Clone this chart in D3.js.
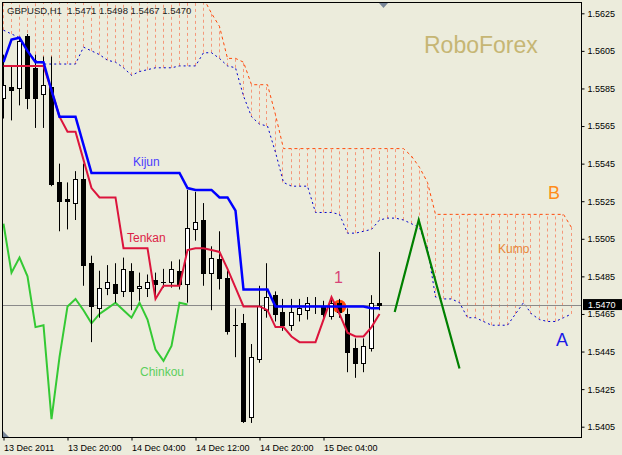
<!DOCTYPE html>
<html><head><meta charset="utf-8">
<script src="https://cdn.jsdelivr.net/npm/d3@7"></script>
<style>html,body{margin:0;padding:0;background:#ECECDC;} svg{display:block;}</style>
</head><body><svg id="c" width="622" height="455"></svg>
<script>
// ---- data ----
const opens  = [1.5580,1.5586,1.5585,1.5613,1.5596,1.5582,1.5586,1.5535,1.5526,1.5524,1.5537,1.5492,1.5468,1.5479,1.5481,1.5477,1.5488,1.5479,1.5479,1.5483,1.5482,1.5482,1.5488,1.5481,1.5510,1.5515,1.5487,1.5494,1.5484,1.5459,1.5460,1.5410,1.5441,1.5467,1.5475,1.5466,1.5459,1.5465,1.5467,1.5469,1.5469,1.5464,1.5471,1.5465,1.5447,1.5439,1.5447,1.5471];
const highs  = [1.5603,1.5597,1.5612,1.5614,1.5603,1.5602,1.5602,1.5545,1.5535,1.5541,1.5545,1.5496,1.5488,1.5491,1.5492,1.5495,1.5492,1.5487,1.5486,1.5487,1.5489,1.5493,1.5494,1.5531,1.5530,1.5524,1.5501,1.5509,1.5488,1.5468,1.5465,1.5449,1.5480,1.5492,1.5477,1.5473,1.5473,1.5473,1.5474,1.5474,1.5472,1.5474,1.5473,1.5468,1.5452,1.5452,1.5475,1.5498];
const lows   = [1.5569,1.5568,1.5576,1.5574,1.5564,1.5564,1.5533,1.5509,1.5510,1.5515,1.5480,1.5450,1.5463,1.5475,1.5471,1.5474,1.5467,1.5472,1.5474,1.5474,1.5479,1.5479,1.5478,1.5471,1.5504,1.5480,1.5467,1.5478,1.5454,1.5442,1.5407,1.5407,1.5439,1.5463,1.5461,1.5456,1.5456,1.5461,1.5462,1.5465,1.5463,1.5462,1.5463,1.5434,1.5431,1.5434,1.5445,1.5467];
const closes = [1.5587,1.5584,1.5610,1.5580,1.5580,1.5587,1.5534,1.5525,1.5525,1.5537,1.5491,1.5469,1.5479,1.5482,1.5476,1.5489,1.5477,1.5480,1.5482,1.5481,1.5482,1.5489,1.5481,1.5511,1.5514,1.5487,1.5495,1.5484,1.5456,1.5459,1.5408,1.5442,1.5469,1.5474,1.5465,1.5459,1.5466,1.5468,1.5471,1.5469,1.5465,1.5471,1.5466,1.5445,1.5439,1.5448,1.5471,1.5470];
const tenkan = [1.5597,1.5597,1.5597,1.5597,1.5597,1.5597,1.5584,1.5570,1.5562,1.5562,1.5547,1.5532,1.5527,1.5527,1.5527,1.5500,1.5500,1.5500,1.5500,1.5473,1.5480,1.5480,1.5480,1.5499,1.5500,1.5500,1.5499,1.5498,1.5489,1.5479,1.5469,1.5469,1.5469,1.5467,1.5458,1.5458,1.5453,1.5450,1.5450,1.5450,1.5462,1.5474,1.5465,1.5455,1.5453,1.5453,1.5458,1.5465];
const kijun  = [1.5599,1.5611,1.5612,1.5605,1.5599,1.5599,1.5584,1.5570,1.5570,1.5570,1.5555,1.5540,1.5540,1.5540,1.5540,1.5540,1.5540,1.5540,1.5540,1.5540,1.5540,1.5540,1.5540,1.5532,1.5531,1.5531,1.5531,1.5527,1.5527,1.5520,1.5478,1.5478,1.5478,1.5478,1.5469,1.5469,1.5469,1.5469,1.5469,1.5469,1.5469,1.5469,1.5469,1.5469,1.5469,1.5469,1.5468,1.5468];
const chinkou = [1.5513,1.5487,1.5495,1.5485,1.5458,1.5459,1.5409,1.5442,1.5469,1.5473,1.5467,1.5460,1.5465,1.5468,1.5471,1.5467,1.5463,1.5471,1.5462,1.5446,1.5440,1.5448,1.5471,1.5470];
const senkouA = [1.5616,1.5614,1.5612,1.5605,1.5600,1.5598,1.5598,1.5598,1.5598,1.5598,1.5607,1.5605,1.5603,1.5600,1.5599,1.5596,1.5592,1.5594,1.5595,1.5596,1.5596,1.5596,1.5597,1.5597,1.5597,1.5604,1.5604,1.5601,1.5597,1.5596,1.5581,1.5570,1.5566,1.5565,1.5551,1.5535,1.5533,1.5533,1.5533,1.5519,1.5519,1.5519,1.5518,1.5508,1.5508,1.5509,1.5510,1.5515,1.5516,1.5516,1.5515,1.5513,1.5511,1.5500,1.5474,1.5473,1.5473,1.5471,1.5463,1.5463,1.5461,1.5459,1.5459,1.5459,1.5465,1.5471,1.5465,1.5462,1.5461,1.5461,1.5463,1.5465];
const senkouB = [1.5645,1.5645,1.5645,1.5645,1.5645,1.5645,1.5645,1.5645,1.5645,1.5645,1.5645,1.5645,1.5645,1.5645,1.5645,1.5645,1.5645,1.5645,1.5645,1.5645,1.5645,1.5645,1.5645,1.5640,1.5636,1.5633,1.5625,1.5618,1.5601,1.5601,1.5599,1.5587,1.5587,1.5587,1.5571,1.5553,1.5553,1.5553,1.5553,1.5553,1.5553,1.5553,1.5553,1.5553,1.5553,1.5553,1.5553,1.5553,1.5553,1.5553,1.5553,1.5549,1.5543,1.5535,1.5518,1.5518,1.5518,1.5518,1.5518,1.5518,1.5518,1.5518,1.5518,1.5518,1.5518,1.5518,1.5518,1.5518,1.5518,1.5518,1.5518,1.5511];
const yTickLabels = ["1.5625","1.5605","1.5585","1.5565","1.5545","1.5525","1.5505","1.5485","1.5465","1.5445","1.5425","1.5405"];
const xTickBars = [0, 8, 16, 24, 32, 40];
const xTickLabels = ["13 Dec 2011","13 Dec 20:00","14 Dec 04:00","14 Dec 12:00","14 Dec 20:00","15 Dec 04:00"];
const headerText = "GBPUSD,H1  1.5471 1.5498 1.5467 1.5470";
const lastPrice = 1.5470;
const forecastBars = [48.9, 51.9, 57.0];
const forecastPrices = [1.5466, 1.5515, 1.5436];
const markBar = 42, markPrice = 1.5469;

// ---- layout ----
const PL = 3, PR = 582, PT = 2, PB = 437;
const FONT = "'Liberation Sans', Arial, sans-serif";
const svg = d3.select("#c");
const x = d3.scaleLinear().domain([0, 72]).range([3.5, 3.5 + 8 * 72]);
const y = d3.scaleLinear().domain([1.5405, 1.5625]).range([426.7, 13.3]);

svg.append("rect").attr("width", 622).attr("height", 455).attr("fill", "#ECECDC");
svg.append("defs").append("clipPath").attr("id", "clip")
  .append("rect").attr("x", PL).attr("y", PT).attr("width", PR - PL).attr("height", PB - PT);
const g = svg.append("g").attr("clip-path", "url(#clip)");

// watermark
svg.append("text").attr("x", 424).attr("y", 53).attr("font-family", FONT).attr("font-size", 23)
  .attr("fill", "#c6b674").text("RoboForex");

// cloud hatch
const idx = d3.range(senkouA.length);
g.append("g").selectAll("line").data(idx).join("line")
  .attr("x1", i => Math.round(x(i)) - 0.5).attr("x2", i => Math.round(x(i)) - 0.5)
  .attr("y1", i => y(senkouA[i])).attr("y2", i => y(senkouB[i]))
  .attr("stroke", "#f4987a").attr("stroke-width", 1).attr("stroke-dasharray", "3,3");

const line = arr => d3.line().x((d, i) => x(i)).y(d => y(d))(arr);
g.append("path").attr("d", line(senkouA)).attr("fill", "none").attr("stroke", "#0000cc")
  .attr("stroke-width", 1).attr("stroke-dasharray", "2,3");
g.append("path").attr("d", line(senkouB)).attr("fill", "none").attr("stroke", "#ff4a0a")
  .attr("stroke-width", 1).attr("stroke-dasharray", "3,3");

// last price line
g.append("line").attr("x1", PL).attr("x2", PR).attr("y1", Math.round(y(lastPrice)) + 0.5)
  .attr("y2", Math.round(y(lastPrice)) + 0.5).attr("stroke", "#8a8a8a").attr("stroke-width", 1);

// chinkou
g.append("path").attr("d", line(chinkou)).attr("fill", "none").attr("stroke", "#34c934").attr("stroke-width", 2);

// marker circle
g.append("circle").attr("cx", x(markBar)).attr("cy", y(markPrice)).attr("r", 6.8).attr("fill", "#ff4a0a");

// candles
const cg = g.append("g");
opens.forEach((o, i) => {
  const c = closes[i], cx = Math.round(x(i));
  cg.append("line").attr("x1", cx - 0.5).attr("x2", cx - 0.5)
    .attr("y1", y(highs[i])).attr("y2", y(lows[i])).attr("stroke", "#000").attr("stroke-width", 1);
  const top = Math.round(y(Math.max(o, c))), bot = Math.round(y(Math.min(o, c)));
  if (c > o) {
    cg.append("rect").attr("x", cx - 2.5).attr("y", top + 0.5).attr("width", 4).attr("height", Math.max(1, bot - top))
      .attr("fill", "#fff").attr("stroke", "#000").attr("stroke-width", 1);
  } else if (c < o) {
    cg.append("rect").attr("x", cx - 3).attr("y", top).attr("width", 5).attr("height", Math.max(1, bot - top + 1))
      .attr("fill", "#000");
  } else {
    cg.append("line").attr("x1", cx - 3).attr("x2", cx + 2).attr("y1", top + 0.5).attr("y2", top + 0.5)
      .attr("stroke", "#000").attr("stroke-width", 1);
  }
});

// tenkan & kijun
g.append("path").attr("d", line(tenkan)).attr("fill", "none").attr("stroke", "#dc143c").attr("stroke-width", 2);
g.append("path").attr("d", line(kijun)).attr("fill", "none").attr("stroke", "#0000ff").attr("stroke-width", 2.5);

// forecast line
g.append("path").attr("d", d3.line().x(d => x(d[0])).y(d => y(d[1]))(forecastBars.map((b, i) => [b, forecastPrices[i]])))
  .attr("fill", "none").attr("stroke", "#008000").attr("stroke-width", 2.2);

// labels
const lab = (t, xx, yy, col, sz) => svg.append("text").attr("x", xx).attr("y", yy)
  .attr("font-family", FONT).attr("font-size", sz).attr("fill", col).text(t);
lab("Kijun", 133, 166, "#4a3cff", 12);
lab("Tenkan", 127, 241.5, "#dc1e46", 12);
lab("Chinkou", 140, 376, "#5ccf5c", 12);
lab("Kumo", 498, 253, "#e8873a", 12);
lab("B", 548, 199, "#ff8c1a", 18);
lab("A", 556, 346, "#1a1ae6", 18);
lab("1", 334, 283, "#d84478", 16);

// header
svg.append("text").attr("x", 7).attr("y", 14).attr("font-family", FONT).attr("font-size", 9.5)
  .attr("fill", "#222").attr("xml:space", "preserve").style("white-space", "pre").text(headerText);

// frame
svg.append("rect").attr("x", PL - 0.5).attr("y", PT + 0.5).attr("width", PR - PL).attr("height", PB - PT)
  .attr("fill", "none").attr("stroke", "#000").attr("stroke-width", 1);

// axes
const ya = svg.append("g").attr("transform", `translate(${PR - 0.5},0)`)
  .call(d3.axisRight(y).tickValues(yTickLabels.map(Number)).tickSize(3).tickPadding(3)
    .tickFormat((d, i) => yTickLabels[i]));
ya.select(".domain").remove();
ya.selectAll("text").attr("font-family", FONT).attr("font-size", 9).attr("fill", "#000");
ya.selectAll("line").attr("stroke", "#000");

const xa = svg.append("g").attr("transform", `translate(0,${PB + 0.5})`)
  .call(d3.axisBottom(x).tickValues(xTickBars).tickSize(3).tickPadding(4)
    .tickFormat((d, i) => xTickLabels[i]));
xa.select(".domain").remove();
xa.selectAll("text").attr("font-family", FONT).attr("font-size", 9).attr("fill", "#000").attr("text-anchor", "start");
xa.selectAll("line").attr("stroke", "#000");

// last price tag
const ly = y(lastPrice);
svg.append("rect").attr("x", 583).attr("y", ly - 5.5).attr("width", 39).attr("height", 11).attr("fill", "#000");
svg.append("text").attr("x", 588).attr("y", ly + 3.3).attr("font-family", FONT).attr("font-size", 9)
  .attr("fill", "#fff").text(lastPrice.toFixed(4));

// small markers
svg.append("path").attr("d", "M379,3 L388,3 L383.5,8 Z").attr("fill", "#7a8899");
svg.append("path").attr("d", "M3,431 L3,437 L9,437 Z").attr("fill", "#7a8899");
</script></body></html>
